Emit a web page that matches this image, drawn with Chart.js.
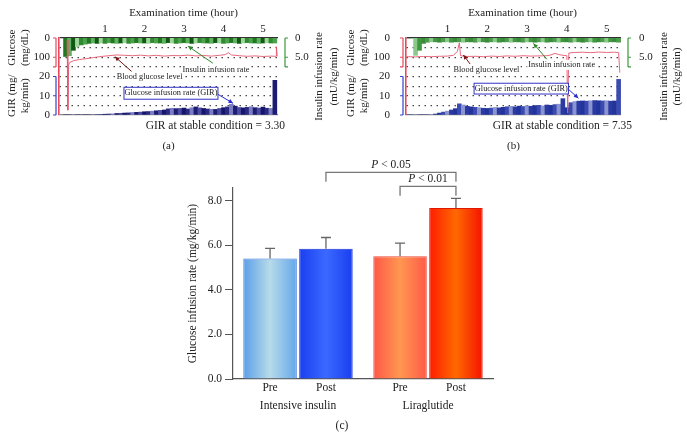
<!DOCTYPE html>
<html>
<head>
<meta charset="utf-8">
<script src="https://cdn.jsdelivr.net/npm/chart.js@4.4.0/dist/chart.umd.min.js"></script>
<style>
  html, body { margin: 0; padding: 0; background: #fff; }
  #wrap { position: relative; width: 687px; height: 438px; }
  #wrap canvas { position: absolute; left: 0; top: 0; }
</style>
</head>
<body>
<div id="wrap">
  <canvas id="panelA" width="687" height="438"></canvas>
  <canvas id="panelB" width="687" height="438"></canvas>
  <canvas id="panelC" width="687" height="438"></canvas>
</div>
<script>
// ---- clamp traces (a) and (b): one sample every 0.1 h ----
const hours = [0.0, 0.1, 0.2, 0.3, 0.4, 0.5, 0.6, 0.7, 0.8, 0.9,
  1.0, 1.1, 1.2, 1.3, 1.4, 1.5, 1.6, 1.7, 1.8, 1.9,
  2.0, 2.1, 2.2, 2.3, 2.4, 2.5, 2.6, 2.7, 2.8, 2.9,
  3.0, 3.1, 3.2, 3.3, 3.4, 3.5, 3.6, 3.7, 3.8, 3.9,
  4.0, 4.1, 4.2, 4.3, 4.4, 4.5, 4.6, 4.7, 4.8, 4.9,
  5.0, 5.1, 5.2, 5.3];

const girA = [0, 0, 0, 0, 0, 0, 0, 0, 0, 0.2,
  0.4, 0.5, 0.6, 0.8, 0.9, 1.0, 1.1, 1.3, 1.4, 1.5,
  1.7, 1.8, 2.0, 2.2, 2.4, 2.6, 3.2, 3.5, 3.3, 3.4,
  3.6, 3.1, 3.8, 4.2, 3.7, 3.4, 3.1, 3.0, 2.9, 3.4,
  3.8, 4.2, 5.6, 4.6, 3.9, 3.7, 4.0, 4.3, 3.8, 3.6,
  4.1, 3.5, 3.4, 18];
const insulinA = [4.8, 4.6, 3.2, 2.3, 1.8, 1.6, 1.4, 1.3, 1.4, 1.3,
  1.4, 1.2, 1.3, 1.4, 1.3, 1.2, 1.4, 1.3, 1.2, 1.3,
  1.3, 1.4, 1.2, 1.3, 1.3, 1.4, 1.2, 1.3, 1.4, 1.3,
  1.2, 1.3, 1.4, 1.3, 1.2, 1.3, 1.3, 1.4, 1.2, 1.3,
  1.4, 1.3, 1.2, 1.3, 1.4, 1.3, 1.2, 1.3, 1.3, 1.4,
  1.3, 1.2, 1.3, 1.3];
const glucoseHoursA = [0.04, 0.06, 0.08, 0.1, 0.2, 0.35, 0.5, 0.7, 0.9, 1.1, 1.3, 1.5, 1.7, 1.9,
  2.1, 2.3, 2.5, 2.7, 2.9, 3.1, 3.3, 3.5, 3.7, 3.9, 4.05, 4.12, 4.2, 4.4, 4.6, 4.8,
  5.0, 5.2, 5.33, 5.34, 5.36];
const glucoseA = [10, 375, 140, 128, 118, 112, 108, 102, 96, 92, 88, 90, 92, 89,
  93, 90, 94, 91, 92, 89, 93, 91, 94, 90, 86, 76, 88, 92, 95, 93,
  96, 94, 95, 45, 95];

const girB = [0, 0, 0, 0, 0, 0, 0, 0.5, 1.0, 1.5,
  2.0, 2.6, 3.3, 5.8, 5.2, 4.5, 4.2, 4.0, 3.8, 3.5,
  3.4, 3.6, 3.9, 3.7, 4.0, 4.3, 4.5, 4.2, 4.6, 4.4,
  4.8, 4.5, 4.9, 5.0, 4.7, 5.2, 5.0, 5.4, 5.6, 8.5,
  3.8, 6.4, 7.0, 7.2, 7.3, 7.2, 7.4, 7.5, 7.4, 7.3,
  7.4, 7.2, 7.3, 18.5];
const insulinB = [0, 0, 4.5, 3.2, 1.4, 1.1, 1.0, 1.0, 1.1, 1.0,
  1.0, 1.1, 1.0, 1.0, 1.1, 1.0, 1.0, 1.1, 1.0, 1.0,
  1.1, 1.0, 1.0, 1.1, 1.0, 1.0, 1.1, 1.0, 1.0, 1.1,
  1.0, 1.0, 1.1, 1.0, 1.0, 1.1, 1.0, 1.0, 1.1, 1.0,
  1.0, 1.1, 1.0, 1.0, 1.1, 1.0, 1.0, 1.1, 1.0, 1.0,
  1.1, 1.0, 1.0, 1.1];
const glucoseHoursB = [-0.03, 0.2, 0.4, 0.6, 0.8, 1.0, 1.15, 1.25, 1.3, 1.33, 1.5, 1.7, 1.9,
  2.1, 2.3, 2.5, 2.7, 2.9, 3.1, 3.3, 3.5, 3.6, 3.7, 3.8, 3.9, 4.0, 4.02, 4.05,
  4.2, 4.4, 4.6, 4.8, 5.0, 5.2, 5.3, 5.33];
const glucoseB = [97, 98, 96, 97, 95, 94, 90, 70, 25, 92, 96, 95, 97,
  94, 96, 93, 95, 92, 94, 93, 92, 88, 80, 86, 90, 92, 390, 78,
  75, 74, 76, 73, 75, 74, 76, 180];

const timeTicks = [1, 2, 3, 4, 5];
const girTicks = [0, 10, 20];
const glucoseTicks = [0, 100];
const insulinTicks = [0, 5];

// ---- bar chart (c) ----
const groups = ['Intensive insulin', 'Liraglutide'];
const preMean = [5.41, 5.51];
const preSd = [0.45, 0.59];
const postMean = [5.84, 7.67];
const postSd = [0.51, 0.43];
const rateTicks = [0, 2, 4, 6, 8];

const SERIF = '"Liberation Serif", "Times New Roman", serif';
const GIR_TOP = 40, GLU_BOTTOM = 400, INS_BOTTOM = 20;

function vtext(ctx, s, x, y) {
  ctx.save();
  ctx.translate(x, y);
  ctx.rotate(-Math.PI / 2);
  ctx.fillText(s, 0, 0);
  ctx.restore();
}

function bracket(ctx, x, ys, dir, color) {
  const y1 = Math.min(...ys), y2 = Math.max(...ys);
  ctx.strokeStyle = color;
  ctx.lineWidth = 1.2;
  ctx.beginPath();
  ctx.moveTo(x, y1);
  ctx.lineTo(x, y2);
  ys.forEach(y => { ctx.moveTo(x, y); ctx.lineTo(x + 3 * dir, y); });
  ctx.stroke();
}

function arrow(ctx, x1, y1, x2, y2, color) {
  const a = Math.atan2(y2 - y1, x2 - x1), h = 5;
  ctx.strokeStyle = color;
  ctx.fillStyle = color;
  ctx.lineWidth = 1;
  ctx.beginPath();
  ctx.moveTo(x1, y1);
  ctx.lineTo(x2, y2);
  ctx.stroke();
  ctx.beginPath();
  ctx.moveTo(x2, y2);
  ctx.lineTo(x2 - h * Math.cos(a - 0.45), y2 - h * Math.sin(a - 0.45));
  ctx.lineTo(x2 - h * Math.cos(a + 0.45), y2 - h * Math.sin(a + 0.45));
  ctx.closePath();
  ctx.fill();
}

function note(ctx, s, x, y) {
  const w = ctx.measureText(s).width;
  ctx.fillStyle = '#fff';
  ctx.fillRect(x - w / 2 - 1, y - 5, w + 2, 10);
  ctx.fillStyle = '#222';
  ctx.fillText(s, x, y);
}

function panelDeco(d) {
  return {
    id: 'panelDeco',
    afterDraw(chart) {
      const {ctx, chartArea: a} = chart;
      const {x, gir, glu, ins} = chart.scales;
      const px = t => x.getPixelForValue(t);
      const py = v => gir.getPixelForValue(v);
      ctx.save();
      bracket(ctx, a.left - 3, [0, 100, 150].map(v => glu.getPixelForValue(v)), -1, '#e8485c');
      bracket(ctx, a.left - 3, [0, 10, 20].map(py), -1, '#3344cc');
      bracket(ctx, a.right + 7, [0, 5, 7.5].map(v => ins.getPixelForValue(v)), 1, '#3a9a3a');

      ctx.fillStyle = '#222';
      ctx.textAlign = 'center';
      ctx.textBaseline = 'middle';
      ctx.font = '11px ' + SERIF;
      ctx.fillText('Examination time (hour)', (a.left + a.right) / 2 + d.titleShift, 13);
      vtext(ctx, 'Glucose', a.left + d.leftTitle[0], glu.getPixelForValue(50));
      vtext(ctx, '(mg/dL)', a.left + d.leftTitle[1], glu.getPixelForValue(50));
      vtext(ctx, 'GIR (mg/', a.left + d.leftTitle[0], py(10));
      vtext(ctx, 'kg/min)', a.left + d.leftTitle[1], py(10));
      vtext(ctx, 'Insulin infusion rate', a.right + d.rightTitle[0], (a.top + a.bottom) / 2);
      vtext(ctx, '(mU/kg/min)', a.right + d.rightTitle[1], (a.top + a.bottom) / 2);

      // notes with arrows
      ctx.font = '8.3px ' + SERIF;
      arrow(ctx, px(d.gluArrow[0]), py(d.gluArrow[1]), px(d.gluArrow[2]), py(d.gluArrow[3]), '#7a1414');
      note(ctx, 'Blood glucose level', px(d.gluNote[0]), py(d.gluNote[1]));
      arrow(ctx, px(d.insArrow[0]), py(d.insArrow[1]), px(d.insArrow[2]), py(d.insArrow[3]), '#2a8a2a');
      note(ctx, 'Insulin infusion rate', px(d.insNote[0]), py(d.insNote[1]));
      const b = d.girBox;
      const bx = px(b[0]), by = py(b[3]), bw = px(b[1]) - bx, bh = py(b[2]) - by;
      ctx.fillStyle = '#fff';
      ctx.fillRect(bx, by, bw, bh);
      ctx.strokeStyle = '#3232c8';
      ctx.lineWidth = 1;
      ctx.strokeRect(bx, by, bw, bh);
      ctx.fillStyle = '#222';
      ctx.fillText('Glucose infusion rate (GIR)', bx + bw / 2, by + bh / 2);
      arrow(ctx, px(d.girArrow[0]), py(d.girArrow[1]), px(d.girArrow[2]), py(d.girArrow[3]), '#2828d0');

      ctx.font = '11.5px ' + SERIF;
      ctx.fillStyle = '#222';
      ctx.textAlign = 'right';
      ctx.fillText('GIR at stable condition = ' + d.stable, a.right + d.stableShift, a.bottom + 11);
      ctx.textAlign = 'center';
      ctx.font = '11px ' + SERIF;
      ctx.fillText(d.tag, (a.left + a.right) / 2, a.bottom + 31);
      ctx.restore();
    }
  };
}

function topPanel(id, d) {
  const pick = (pal, i) => pal[i % pal.length];
  return new Chart(document.getElementById(id), {
    type: 'bar',
    data: {
      datasets: [
        {
          type: 'line', label: 'Blood glucose level', yAxisID: 'glu', order: 1,
          data: d.glucoseHours.map((h, i) => ({x: h, y: d.glucose[i]})),
          borderColor: '#e4586f', borderWidth: 0.9, pointRadius: 0, tension: 0
        },
        {
          label: 'Glucose infusion rate', yAxisID: 'gir', order: 2, grouped: false,
          data: hours.map((h, i) => ({x: h, y: d.gir[i]})),
          backgroundColor: hours.map((h, i) => pick(d.girColors, i)),
          barPercentage: 1, categoryPercentage: 1, borderWidth: 0
        },
        {
          label: 'Insulin infusion rate', yAxisID: 'ins', order: 3, grouped: false,
          data: hours.map((h, i) => ({x: h, y: d.insulin[i]})),
          backgroundColor: hours.map((h, i) => pick(d.insColors, i)),
          barPercentage: 1, categoryPercentage: 1, borderWidth: 0
        }
      ]
    },
    options: {
      responsive: false, animation: false, devicePixelRatio: 1, events: [],
      layout: {padding: {left: d.left - 40, right: 687 - d.right - 40, top: 0, bottom: 438 - d.bottom}},
      plugins: {legend: {display: false}, tooltip: {enabled: false}},
      scales: {
        x: {
          type: 'linear', position: 'top', min: d.tMin, max: d.tMax, offset: false,
          grid: {display: false, drawTicks: false}, border: {display: false},
          afterFit: s => { s.height = d.top; },
          afterBuildTicks: s => { s.ticks = timeTicks.map(v => ({value: v})); },
          ticks: {padding: 2, color: '#222', maxRotation: 0, font: {family: SERIF, size: 11}}
        },
        gir: {
          type: 'linear', axis: 'y', position: 'left', min: 0, max: GIR_TOP,
          afterFit: s => { s.width = 40; },
          afterBuildTicks: s => { s.ticks = [0, 5, 10, 15, 20, 25, 30, 35, 40].map(v => ({value: v})); },
          ticks: {
            autoSkip: false,
            padding: d.padLabelL, color: '#222', font: {family: SERIF, size: 11},
            callback: v => {
              if (girTicks.includes(v)) return String(v);
              const g = (GIR_TOP - v) * GLU_BOTTOM / GIR_TOP;
              return glucoseTicks.includes(g) ? String(g) : '';
            }
          },
          grid: {
            drawTicks: false, lineWidth: 1.2,
            color: c => c.tick.value === 0 ? '#8a8a8a' : (c.tick.value === GIR_TOP ? '#333' : '#1a1a1a')
          },
          border: {
            display: true, color: '#e8485c', width: 1.6,
            dash: c => (c.tick && c.tick.value > 0 && c.tick.value < GIR_TOP) ? [1.2, 4.8] : []
          }
        },
        glu: {type: 'linear', axis: 'y', position: 'left', display: false, reverse: true, min: 0, max: GLU_BOTTOM},
        ins: {
          type: 'linear', axis: 'y', position: 'right', reverse: true, min: 0, max: INS_BOTTOM,
          afterFit: s => { s.width = 40; },
          afterBuildTicks: s => { s.ticks = insulinTicks.map(v => ({value: v})); },
          ticks: {padding: d.padLabelR, color: '#222', font: {family: SERIF, size: 11},
            callback: v => v === 0 ? '0' : v.toFixed(1)},
          grid: {display: false, drawTicks: false}, border: {display: false}
        }
      }
    },
    plugins: [panelDeco(d)]
  });
}

topPanel('panelA', {
  gir: girA, insulin: insulinA, glucoseHours: glucoseHoursA, glucose: glucoseA,
  girColors: ['#15156a', '#2a2a86', '#7c7cc0', '#1c1c74', '#4a4aa0'],
  insColors: ['#1f7a1f', '#62b062', '#0f5a12', '#9fd49a', '#2e8b2e', '#4da04d'],
  left: 59, right: 278, top: 38, bottom: 115, tMin: -0.165, tMax: 5.38,
  padLabelL: 9, padLabelR: 17, titleShift: 15, leftTitle: [-46.5, -33.5], rightTitle: [41, 56],
  gluNote: [2.13, 19.9], gluArrow: [1.68, 22.5, 1.25, 30.3],
  insNote: [3.81, 23.7], insArrow: [3.73, 26.9, 3.10, 35.8],
  girBox: [1.48, 3.86, 8.2, 14.4], girArrow: [3.86, 10.75, 4.24, 6.1],
  stable: '3.30', stableShift: 7, tag: '(a)'
});

topPanel('panelB', {
  gir: girB, insulin: insulinB, glucoseHours: glucoseHoursB, glucose: glucoseB,
  girColors: ['#22339a', '#3a4ab0', '#8a94d0', '#2a3aa2'],
  insColors: ['#3d8a3d', '#4a9e4a', '#8cc88c', '#3f9a3f'],
  left: 406, right: 621, top: 38, bottom: 115, tMin: -0.04, tMax: 5.36,
  padLabelL: 16, padLabelR: 18, titleShift: 9, leftTitle: [-55, -41.5], rightTitle: [43, 56],
  gluNote: [1.98, 23.4], gluArrow: [1.57, 26.5, 1.40, 31.2],
  insNote: [3.87, 26], insArrow: [3.50, 28.9, 3.16, 37.2],
  girBox: [1.67, 4.04, 10.9, 16.5], girArrow: [4.04, 13.35, 4.29, 8.7],
  stable: '7.35', stableShift: 11, tag: '(b)'
});

// ---- panel (c) ----
const CAT_PCT = 0.86, BAR_PCT = 0.957;
const barStops = [
  [['#5c9fe8', '#b7dbe9', '#64a7ea'], ['#ff5747', '#ff9751', '#ff5a48']],
  [['#1a3ef0', '#3b69ff', '#1a3ef0'], ['#ff1c00', '#ff6900', '#f41200']]
];
const barEdges = [['#3c74d8', '#e8493a'], ['#1532d8', '#e01800']];

function barFill(c) {
  const stops = (barStops[c.datasetIndex] || [])[c.dataIndex] || barStops[0][0];
  const chart = c.chart, xs = chart.scales.x;
  if (c.type !== 'data' || !xs || !chart.chartArea) return stops[1];
  const slot = xs.width / groups.length * CAT_PCT / 2;
  const mid = xs.getPixelForValue(c.dataIndex) + (c.datasetIndex - 0.5) * slot;
  const half = slot * BAR_PCT / 2;
  const g = chart.ctx.createLinearGradient(mid - half, 0, mid + half, 0);
  g.addColorStop(0, stops[0]);
  g.addColorStop(0.5, stops[1]);
  g.addColorStop(1, stops[2]);
  return g;
}

const comparisons = [
  {from: [1, 0], to: [1, 1], p: '0.05', level: 9.27},
  {from: [0, 1], to: [1, 1], p: '0.01', level: 8.64}
];
const errors = [preSd, postSd];

const barDeco = {
  id: 'barDeco',
  afterDatasetsDraw(chart) {
    const {ctx, chartArea: a} = chart;
    const y = chart.scales.y;
    ctx.save();
    ctx.strokeStyle = '#666';
    ctx.lineWidth = 1.3;
    chart.data.datasets.forEach((ds, di) => {
      chart.getDatasetMeta(di).data.forEach((el, i) => {
        const top = y.getPixelForValue(ds.data[i]);
        const end = y.getPixelForValue(ds.data[i] + errors[di][i]);
        ctx.beginPath();
        ctx.moveTo(el.x, top);
        ctx.lineTo(el.x, end);
        ctx.moveTo(el.x - 5, end);
        ctx.lineTo(el.x + 5, end);
        ctx.stroke();
      });
    });
    ctx.fillStyle = '#222';
    ctx.textAlign = 'center';
    ctx.textBaseline = 'middle';
    ctx.font = '11.5px ' + SERIF;
    chart.data.datasets.forEach((ds, di) => {
      chart.getDatasetMeta(di).data.forEach(el => ctx.fillText(ds.label, el.x, a.bottom + 9));
    });
    ctx.fillText('(c)', (a.left + a.right) / 2 - 21, a.bottom + 47);

    comparisons.forEach(cmp => {
      const x1 = chart.getDatasetMeta(cmp.from[0]).data[cmp.from[1]].x;
      const x2 = chart.getDatasetMeta(cmp.to[0]).data[cmp.to[1]].x;
      const yb = y.getPixelForValue(cmp.level);
      const yl = y.getPixelForValue(cmp.level - 0.42);
      ctx.strokeStyle = '#777';
      ctx.lineWidth = 1.3;
      ctx.beginPath();
      ctx.moveTo(x1, yl);
      ctx.lineTo(x1, yb);
      ctx.lineTo(x2, yb);
      ctx.lineTo(x2, yl);
      ctx.stroke();
      ctx.font = 'italic 11.5px ' + SERIF;
      const pw = ctx.measureText('P').width;
      ctx.font = '11.5px ' + SERIF;
      const rest = ' < ' + cmp.p;
      const rw = ctx.measureText(rest).width;
      const sx = (x1 + x2) / 2 - (pw + rw) / 2;
      ctx.textAlign = 'left';
      ctx.font = 'italic 11.5px ' + SERIF;
      ctx.fillText('P', sx, yb - 7);
      ctx.font = '11.5px ' + SERIF;
      ctx.fillText(rest, sx + pw, yb - 7);
    });
    ctx.restore();
  }
};

new Chart(document.getElementById('panelC'), {
  type: 'bar',
  data: {
    labels: groups,
    datasets: [
      {label: 'Pre', data: preMean, backgroundColor: barFill, borderColor: barEdges[0], borderWidth: 1,
        categoryPercentage: CAT_PCT, barPercentage: BAR_PCT},
      {label: 'Post', data: postMean, backgroundColor: barFill, borderColor: barEdges[1], borderWidth: 1,
        categoryPercentage: CAT_PCT, barPercentage: BAR_PCT}
    ]
  },
  options: {
    responsive: false, animation: false, devicePixelRatio: 1, events: [],
    layout: {padding: {left: 183, right: 194, top: 188, bottom: 19}},
    plugins: {legend: {display: false}, tooltip: {enabled: false}},
    scales: {
      x: {
        grid: {display: false, drawTicks: false},
        border: {color: '#555', width: 1.2},
        afterFit: s => { s.height = 40; },
        ticks: {padding: 20, color: '#222', font: {family: SERIF, size: 11.5}}
      },
      y: {
        min: 0, max: 8.57,
        afterFit: s => { s.width = 50; },
        afterBuildTicks: s => { s.ticks = rateTicks.map(v => ({value: v})); },
        grid: {drawOnChartArea: false, drawTicks: true, tickLength: 8, color: '#555'},
        border: {color: '#555', width: 1.2},
        ticks: {padding: 3, color: '#222', font: {family: SERIF, size: 11.5}, callback: v => v.toFixed(1)},
        title: {display: true, text: 'Glucose infusion rate (mg/kg/min)', color: '#222',
          padding: {top: 3, bottom: 0}, font: {family: SERIF, size: 11.5}}
      }
    }
  },
  plugins: [barDeco]
});
</script>
</body>
</html>
